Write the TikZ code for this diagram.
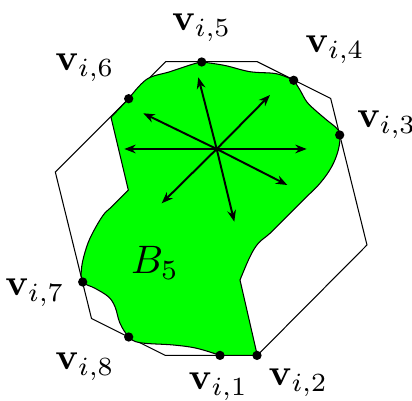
\documentclass[tikz,border=0pt]{standalone}
\usetikzlibrary{arrows.meta}
\begin{document}
\begin{tikzpicture}[x=0.3333pt,y=-0.3333pt,
  poly/.style={draw=black,line width=0.35pt},
  region/.style={fill=green,draw=black,line width=0.35pt},
  ray/.style={line width=0.65pt,-{Stealth[length=3.8pt,width=2.9pt]}},
  vdot/.style={circle,fill=black,inner sep=0pt,minimum size=3.1pt},
  lbl/.style={inner sep=0pt,scale=1.25}]
\useasboundingbox (0,0) rectangle (412,401);
% octagon
\draw[poly] (165.7,61.7) -- (257.3,61.7) -- (330.7,98.5) -- (367,245) -- (257.3,355.4) -- (165.3,355.4) -- (91.5,318.5) -- (55.3,172) -- cycle;
% green region
\filldraw[region]
  plot[smooth,tension=0.6] coordinates {(202,62) (225,65.5) (250,71.7) (276.7,73.8) (294,80.5)}
  -- plot[smooth,tension=0.6] coordinates {(294,80.5) (300,90) (306.7,101.7) (315,110) (326.7,120) (336.7,128.3) (340,135) (338.3,150) (331.7,166.7) (320,183.3) (303.3,200) (286.7,216.7) (270,233.3) (258.3,243.3) (250,256.7) (240,280)}
  -- (257.3,355.4) -- (220,355.4)
  -- plot[smooth,tension=0.6] coordinates {(220,355.4) (196.7,348.3) (173.3,345) (140,342.7) (128.7,336.7) (120,323.3) (115,306.7) (108.3,296.7) (95,288.3) (82.7,281.7) (81.7,266.7) (86.7,246.7) (93.3,231.7) (103.3,215) (111.7,206.7) (128.3,190)}
  -- (111,117.3) -- (128.7,98.7)
  -- plot[smooth,tension=0.6] coordinates {(128.7,98.7) (146.7,79.3) (170,71.7) (193.3,64) (202,62)}
  -- cycle;
% rays
\coordinate (c) at (216.7,149);
\coordinate (e1) at (198.3,77.3);
\coordinate (e2) at (234.3,221.7);
\coordinate (e3) at (124.3,149);
\coordinate (e4) at (306.7,149);
\coordinate (e5) at (270,95);
\coordinate (e6) at (161.7,203.3);
\coordinate (e7) at (143.3,113.3);
\coordinate (e8) at (287.3,185);
\foreach \e in {e1,e2,e3,e4,e5,e6,e7,e8} \draw[ray] (c) -- (\e);
% vertices
\node[vdot] (v1) at (220,355.4) {};
\node[vdot] (v2) at (257,355.4) {};
\node[vdot] (v3) at (339.7,135) {};
\node[vdot] (v4) at (293.7,80.3) {};
\node[vdot] (v5) at (201.7,62) {};
\node[vdot] (v6) at (128.7,98.7) {};
\node[vdot] (v7) at (82.7,282) {};
\node[vdot] (v8) at (128.7,337) {};
% labels
\node[lbl] (l5) at (201.7,28) {$\mathbf{v}_{i,5}$};
\node[lbl] (l4) at (335,50) {$\mathbf{v}_{i,4}$};
\node[lbl] (l3) at (386.7,125) {$\mathbf{v}_{i,3}$};
\node[lbl] (l6) at (85,68) {$\mathbf{v}_{i,6}$};
\node[lbl] (l7) at (35,293) {$\mathbf{v}_{i,7}$};
\node[lbl] (l8) at (85,367) {$\mathbf{v}_{i,8}$};
\node[lbl] (l1) at (218.3,386.7) {$\mathbf{v}_{i,1}$};
\node[lbl] (l2) at (298.3,382.7) {$\mathbf{v}_{i,2}$};
\node[lbl,scale=1.06] (b5) at (155,263) {$B_5$};
\end{tikzpicture}
\end{document}
